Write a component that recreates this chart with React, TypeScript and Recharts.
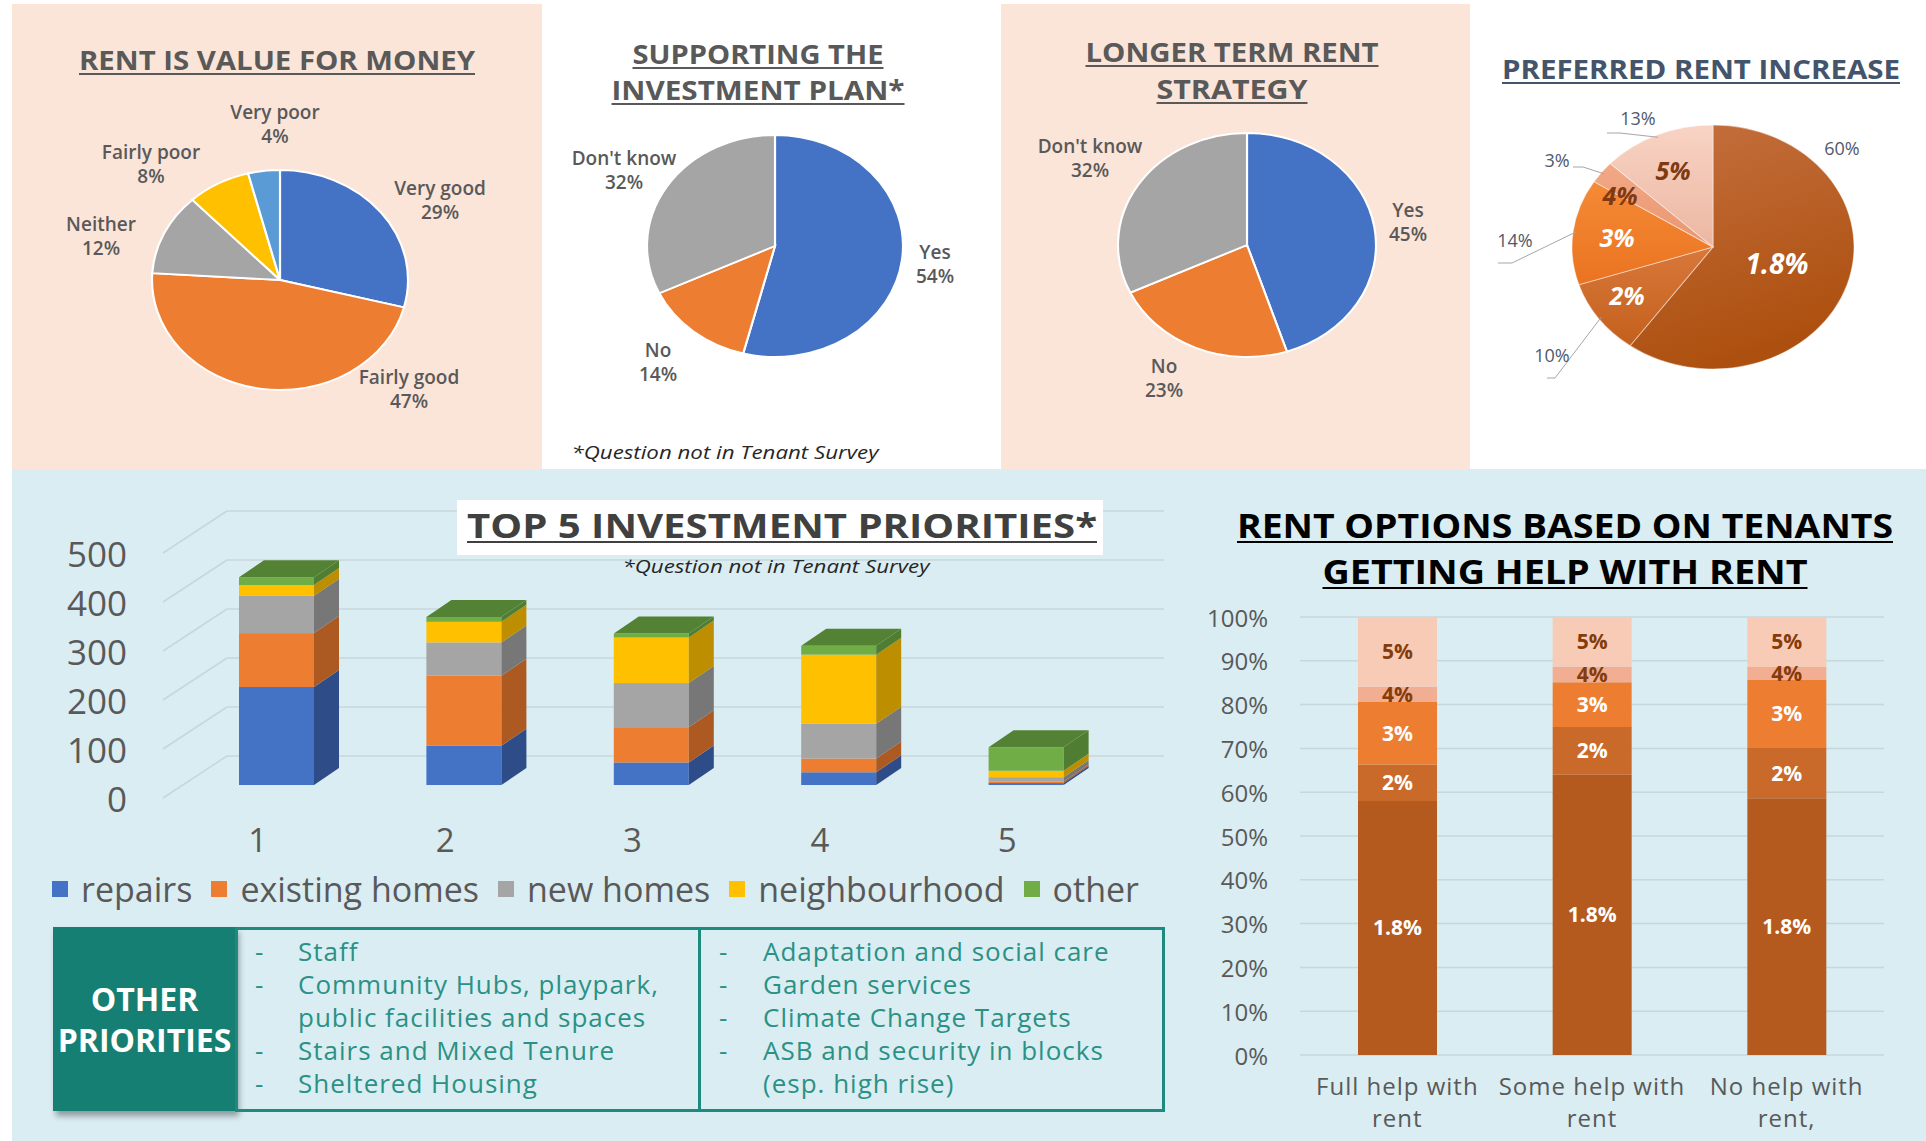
import React from "react";
import {
  PieChart,
  Pie,
  Cell,
  BarChart,
  Bar,
  XAxis,
  YAxis,
  CartesianGrid,
  LabelList,
} from "recharts";

// ---- data ----
const valueNames = ["Very good", "Fairly good", "Neither", "Fairly poor", "Very poor"];
const valueShares = [29, 47, 12, 8, 4];

const planNames = ["Yes", "No", "Don't know"];
const planShares = [54, 14, 32];

const strategyNames = ["Yes", "No", "Don't know"];
const strategyShares = [45, 23, 32];

const increaseNames = ["1.8%", "2%", "3%", "4%", "5%"];
const increaseShares = [60, 10, 14, 3, 13];

const priorityRanks = ["1", "2", "3", "4", "5"];
const repairs = [200, 80, 46, 26, 4];
const existingHomes = [110, 143, 72, 28, 3];
const newHomes = [76, 68, 90, 71, 9];
const neighbourhood = [22, 42, 93, 141, 13];
const otherPriority = [16, 10, 8, 18, 48];
const priorityTicks = [0, 100, 200, 300, 400, 500];

const helpGroups = ["Full help with|rent", "Some help with|rent", "No help with|rent,"];
const rent18 = [58, 64, 58.6];
const rent2 = [8.3, 10.9, 11.5];
const rent3 = [14.3, 10.2, 15.5];
const rent4 = [3.5, 3.6, 3.0];
const rent5 = [15.9, 11.3, 11.4];
const percentTicks = [0, 10, 20, 30, 40, 50, 60, 70, 80, 90, 100];

const leftItems = ["Staff", "Community Hubs, playpark,", "public facilities and spaces", "Stairs and Mixed Tenure", "Sheltered Housing"];
const leftDash = [true, true, false, true, true];
const rightItems = ["Adaptation and social care", "Garden services", "Climate Change Targets", "ASB and security in blocks", "(esp. high rise)"];
const rightDash = [true, true, true, true, false];

// ---- styling ----
const FONT = "'Open Sans', 'DejaVu Sans', sans-serif";
const GREY = "#595959";
const PEACH = "#fbe4d8";
const BLUEBG = "#daedf2";
const OFFICE = ["#4472C4", "#ED7D31", "#A5A5A5", "#FFC000", "#5B9BD5"];

const pieValueLabels: [number, number][] = [[160, -80], [129, 109], [-179, -44], [-129, -116], [-5, -156]];
const piePlanLabels: [number, number][] = [[160, 18], [-117, 116], [-151, -76]];
const pieStrategyLabels: [number, number][] = [[161, -23], [-83, 133], [-157, -87]];
const incInner: [number, number][] = [[64, 16], [-86, 48], [-96, -10], [-93, -52], [-40, -77]];
const incOuter: [number, number][] = [[129, -99], [-161, 108], [-198, -7], [-156, -87], [-75, -129]];
const incLeaders: (number[] | null)[] = [null, [-166, 131, -158, 131], [-215, 16, -201, 16], [-140, -80, -130, -80], [-106, -114, -93, -114]];
const incFill = ["url(#inc0)", "url(#inc1)", "url(#inc2)", "url(#inc3)", "url(#inc4)"];
const incText = ["#ffffff", "#ffffff", "#ffffff", "#7f3a12", "#7f3a12"];
const RX4 = 141;
const RY4 = 122;

const twoLineLabel = (offsets: [number, number][]) => (p: any) => {
  const [dx, dy] = offsets[p.index];
  const x = p.cx + dx;
  const y = p.cy + dy;
  const name = p.payload?.name ?? p.name;
  return (
    <text x={x} y={y} textAnchor="middle" fill={GREY} fontSize={19} fontFamily={FONT} fontWeight={600}>
      <tspan x={x} dy={-5}>{name}</tspan>
      <tspan x={x} dy={24}>{`${p.value}%`}</tspan>
    </text>
  );
};

const increaseLabel = (p: any) => {
  const i = p.index;
  const { cx, cy } = p;
  const mid = (p.midAngle * Math.PI) / 180;
  const ex = cx + RX4 * 0.98 * Math.cos(mid);
  const ey = cy - RY4 * 0.98 * Math.sin(mid);
  const lead = incLeaders[i];
  const name = p.payload?.name ?? p.name;
  return (
    <g>
      {lead ? (
        <polyline
          points={`${cx + lead[0]},${cy + lead[1]} ${cx + lead[2]},${cy + lead[3]} ${ex},${ey}`}
          fill="none"
          stroke="#a6a6a6"
          strokeWidth={1}
        />
      ) : null}
      <text
        x={cx + incInner[i][0]}
        y={cy + incInner[i][1]}
        textAnchor="middle"
        dominantBaseline="central"
        fill={incText[i]}
        fontSize={i === 0 ? 28 : 25}
        fontWeight={700}
        fontStyle="italic"
        fontFamily={FONT}
      >
        {name}
      </text>
      <text
        x={cx + incOuter[i][0]}
        y={cy + incOuter[i][1]}
        textAnchor="middle"
        dominantBaseline="central"
        fill="#505a6b"
        fontSize={18}
        fontFamily={FONT}
      >
        {`${p.value}%`}
      </text>
    </g>
  );
};

function SurveyPie(props: any) {
  const { cls, left, top, w, h, cx, cy, rx, ry, names, values, fills, stroke, strokeWidth, label, defs } = props;
  const r = (rx + ry) / 2;
  const data = names.map((n: string, i: number) => ({ name: n, value: values[i] }));
  return (
    <div className={cls} style={{ position: "absolute", left, top, width: w, height: h }}>
      <style>{`.${cls} path.recharts-sector{transform-origin:${cx}px ${cy}px;transform:scale(${rx / r},${ry / r});}`}</style>
      <PieChart width={w} height={h} margin={{ top: 0, right: 0, bottom: 0, left: 0 }}>
        {defs}
        <Pie
          data={data}
          dataKey="value"
          nameKey="name"
          cx={cx}
          cy={cy}
          outerRadius={r}
          startAngle={90}
          endAngle={-270}
          stroke={stroke}
          strokeWidth={strokeWidth}
          label={label}
          labelLine={false}
          isAnimationActive={false}
        >
          {data.map((d: any, i: number) => (
            <Cell key={d.name} fill={fills[i]} />
          ))}
        </Pie>
      </PieChart>
    </div>
  );
}

// 3D stacked column series
const series3d = [
  { key: "repairs", name: "repairs", front: "#4472C4", side: "#2e4d88" },
  { key: "existing", name: "existing homes", front: "#ED7D31", side: "#ad5a22" },
  { key: "newHomes", name: "new homes", front: "#A5A5A5", side: "#777777" },
  { key: "neighbourhood", name: "neighbourhood", front: "#FFC000", side: "#bc8e00" },
  { key: "other", name: "other", front: "#70AD47", side: "#4f7e32", top: "#548235" },
];

const priorityData = priorityRanks.map((r, i) => ({
  rank: r,
  repairs: repairs[i],
  existing: existingHomes[i],
  newHomes: newHomes[i],
  neighbourhood: neighbourhood[i],
  other: otherPriority[i],
}));

const DEPTH_X = 25;
const DEPTH_Y = -17;

const box3d = (side: string, topFace?: string) => (p: any) => {
  const { x, y, width, height, fill } = p;
  if (!height || height <= 0) return <g />;
  return (
    <g>
      <rect x={x} y={y} width={width} height={height} fill={fill} />
      <polygon
        points={`${x + width},${y} ${x + width + DEPTH_X},${y + DEPTH_Y} ${x + width + DEPTH_X},${y + height + DEPTH_Y} ${x + width},${y + height}`}
        fill={side}
      />
      {topFace ? (
        <polygon
          points={`${x},${y} ${x + DEPTH_X},${y + DEPTH_Y} ${x + width + DEPTH_X},${y + DEPTH_Y} ${x + width},${y}`}
          fill={topFace}
        />
      ) : null}
    </g>
  );
};

// rent options stacked 100% columns
const rentSeries = [
  { key: "r18", name: "1.8%", fill: "#b45a1f", text: "#ffffff", values: rent18 },
  { key: "r2", name: "2%", fill: "#c9692a", text: "#ffffff", values: rent2 },
  { key: "r3", name: "3%", fill: "#ed7d31", text: "#ffffff", values: rent3 },
  { key: "r4", name: "4%", fill: "#f2ae93", text: "#843c0c", values: rent4 },
  { key: "r5", name: "5%", fill: "#f8cbb6", text: "#843c0c", values: rent5 },
];

const rentData = helpGroups.map((g, i) => {
  const row: any = { group: g };
  rentSeries.forEach((s) => {
    row[s.key] = s.values[i];
  });
  return row;
});

function Title(props: any) {
  const { x, y, w, size, color, text, italic, underline = true } = props;
  return (
    <g>
      <text
        x={x}
        y={y}
        textAnchor="middle"
        textLength={w}
        lengthAdjust="spacingAndGlyphs"
        fontSize={size}
        fontWeight={italic ? 400 : 700}
        fontStyle={italic ? "italic" : "normal"}
        fill={color}
        fontFamily={FONT}
      >
        {text}
      </text>
      {underline ? (
        <line x1={x - w / 2} x2={x + w / 2} y1={y + 4} y2={y + 4} stroke={color} strokeWidth={2} />
      ) : null}
    </g>
  );
}

export default function App() {
  return (
    <div
      style={{
        position: "absolute",
        left: 0,
        top: 0,
        width: 1926,
        height: 1141,
        background: "#ffffff",
        overflow: "hidden",
        fontFamily: FONT,
      }}
    >
      {/* panel backgrounds */}
      <div style={{ position: "absolute", left: 12, top: 4, width: 530, height: 465, background: PEACH }} />
      <div style={{ position: "absolute", left: 1001, top: 4, width: 469, height: 465, background: PEACH }} />
      <div style={{ position: "absolute", left: 12, top: 469, width: 1914, height: 672, background: BLUEBG }} />

      <SurveyPie
        cls="pie-value"
        left={12}
        top={4}
        w={530}
        h={465}
        cx={268}
        cy={276}
        rx={128}
        ry={110}
        names={valueNames}
        values={valueShares}
        fills={OFFICE}
        stroke="#ffffff"
        strokeWidth={2}
        label={twoLineLabel(pieValueLabels)}
      />
      <SurveyPie
        cls="pie-plan"
        left={542}
        top={4}
        w={459}
        h={465}
        cx={233}
        cy={242}
        rx={128}
        ry={111}
        names={planNames}
        values={planShares}
        fills={[OFFICE[0], OFFICE[1], OFFICE[2]]}
        stroke="#ffffff"
        strokeWidth={2}
        label={twoLineLabel(piePlanLabels)}
      />
      <SurveyPie
        cls="pie-strategy"
        left={1001}
        top={4}
        w={469}
        h={465}
        cx={246}
        cy={241}
        rx={129}
        ry={112}
        names={strategyNames}
        values={strategyShares}
        fills={[OFFICE[0], OFFICE[1], OFFICE[2]]}
        stroke="#ffffff"
        strokeWidth={2}
        label={twoLineLabel(pieStrategyLabels)}
      />
      <SurveyPie
        cls="pie-increase"
        left={1470}
        top={4}
        w={456}
        h={465}
        cx={243}
        cy={243}
        rx={RX4}
        ry={RY4}
        names={increaseNames}
        values={increaseShares}
        fills={incFill}
        stroke="rgba(255,255,255,0.45)"
        strokeWidth={1}
        label={increaseLabel}
        defs={
          <defs>
            <linearGradient id="inc0" x1="0" y1="0" x2="0.3" y2="1">
              <stop offset="0%" stopColor="#c5703f" />
              <stop offset="100%" stopColor="#ad500f" />
            </linearGradient>
            <linearGradient id="inc1" x1="0" y1="0" x2="0" y2="1">
              <stop offset="0%" stopColor="#d8783a" />
              <stop offset="100%" stopColor="#c4601d" />
            </linearGradient>
            <linearGradient id="inc2" x1="0" y1="0" x2="0" y2="1">
              <stop offset="0%" stopColor="#f58a36" />
              <stop offset="100%" stopColor="#ea7320" />
            </linearGradient>
            <linearGradient id="inc3" x1="0" y1="0" x2="0" y2="1">
              <stop offset="0%" stopColor="#f2a886" />
              <stop offset="100%" stopColor="#ea966f" />
            </linearGradient>
            <linearGradient id="inc4" x1="0" y1="0" x2="0" y2="1">
              <stop offset="0%" stopColor="#f8d3c4" />
              <stop offset="100%" stopColor="#ecb7a2" />
            </linearGradient>
          </defs>
        }
      />

      {/* 3D stacked columns */}
      <div style={{ position: "absolute", left: 0, top: 469 }}>
        <BarChart width={1180} height={420} data={priorityData} margin={{ top: 71, right: 60, bottom: 74, left: 143 }}>
          <CartesianGrid
            vertical={false}
            horizontal={(g: any) => (
              <g key={g.key ?? `grid-${g.y1}`}>
                <line x1={g.x1 - 20} y1={g.y1 + 13} x2={g.x1 + 44} y2={g.y1 - 29} stroke="#c9d6db" strokeWidth={1.5} />
                <line x1={g.x1 + 44} y1={g.y1 - 29} x2={g.x2 + 44} y2={g.y1 - 29} stroke="#c9d6db" strokeWidth={1.5} />
              </g>
            )}
          />
          <XAxis
            dataKey="rank"
            axisLine={false}
            tickLine={false}
            height={30}
            tick={(t: any) => (
              <text x={t.x - 19} y={370} textAnchor="middle" dominantBaseline="central" fontSize={33} fill={GREY} fontFamily={FONT}>
                {t.payload.value}
              </text>
            )}
          />
          <YAxis
            domain={[0, 500]}
            ticks={priorityTicks}
            width={40}
            axisLine={false}
            tickLine={false}
            tick={(t: any) => (
              <text x={127} y={t.y + 13} textAnchor="end" dominantBaseline="central" fontSize={35} fill={GREY} fontFamily={FONT}>
                {t.payload.value}
              </text>
            )}
          />
          {series3d.map((s) => (
            <Bar
              key={s.key}
              dataKey={s.key}
              name={s.name}
              stackId="p"
              fill={s.front}
              barSize={75}
              shape={box3d(s.side, s.top)}
              isAnimationActive={false}
            />
          ))}
        </BarChart>
      </div>

      {/* legend for the 3D chart */}
      <div
        style={{
          position: "absolute",
          left: 52,
          top: 868,
          display: "flex",
          alignItems: "center",
          fontSize: 34,
          lineHeight: "42px",
          color: GREY,
          whiteSpace: "nowrap",
        }}
      >
        {series3d.map((s) => (
          <div key={s.key} style={{ display: "flex", alignItems: "center", marginRight: 19 }}>
            <span style={{ width: 16, height: 16, background: s.front, marginRight: 13, display: "inline-block" }} />
            {s.name}
          </div>
        ))}
      </div>

      {/* rent options chart */}
      <div style={{ position: "absolute", left: 1180, top: 469 }}>
        <BarChart width={746} height={672} data={rentData} margin={{ top: 148, right: 42, bottom: 26, left: 60 }}>
          <CartesianGrid vertical={false} stroke="#c6d7dd" strokeWidth={1.5} />
          <XAxis
            dataKey="group"
            axisLine={false}
            tickLine={false}
            height={60}
            tick={(t: any) => {
              const [a, b] = String(t.payload.value).split("|");
              return (
                <text textAnchor="middle" fontSize={24} fill={GREY} fontFamily={FONT} letterSpacing={1}>
                  <tspan x={t.x} y={626}>{a}</tspan>
                  <tspan x={t.x} y={658}>{b}</tspan>
                </text>
              );
            }}
          />
          <YAxis
            domain={[0, 100]}
            ticks={percentTicks}
            width={60}
            axisLine={false}
            tickLine={false}
            tick={(t: any) => (
              <text x={88} y={t.y} textAnchor="end" dominantBaseline="central" fontSize={24} fill={GREY} fontFamily={FONT}>
                {`${t.payload.value}%`}
              </text>
            )}
          />
          {rentSeries.map((s) => (
            <Bar key={s.key} dataKey={s.key} name={s.name} stackId="r" fill={s.fill} barSize={79} isAnimationActive={false}>
              <LabelList
                dataKey={s.key}
                position="center"
                formatter={() => s.name}
                fill={s.text}
                fontSize={21}
                fontWeight={700}
                fontFamily={FONT}
              />
            </Bar>
          ))}
        </BarChart>
      </div>

      {/* titles and notes */}
      <svg width={1926} height={1141} style={{ position: "absolute", left: 0, top: 0, pointerEvents: "none" }}>
        <rect x={457} y={500} width={646} height={55} fill="#ffffff" />
        <Title x={277} y={70} w={396} size={26} color={GREY} text="RENT IS VALUE FOR MONEY" />
        <Title x={758} y={64} w={251} size={26} color={GREY} text="SUPPORTING THE" />
        <Title x={758} y={100} w={293} size={26} color={GREY} text="INVESTMENT PLAN*" />
        <Title x={1232} y={62} w={293} size={26} color={GREY} text="LONGER TERM RENT" />
        <Title x={1232} y={99} w={151} size={26} color={GREY} text="STRATEGY" />
        <Title x={1701} y={79} w={398} size={26} color="#44546a" text="PREFERRED RENT INCREASE" />
        <Title x={725} y={459} w={307} size={19} color="#262626" italic underline={false} text="*Question not in Tenant Survey" />
        <Title x={782} y={538} w={630} size={34} color="#404040" text="TOP 5 INVESTMENT PRIORITIES*" />
        <Title x={776} y={573} w={307} size={18} color="#262626" italic underline={false} text="*Question not in Tenant Survey" />
        <Title x={1565} y={538} w={656} size={34} color="#000000" text="RENT OPTIONS BASED ON TENANTS" />
        <Title x={1565} y={584} w={485} size={34} color="#000000" text="GETTING HELP WITH RENT" />
      </svg>

      {/* other priorities box */}
      <div
        style={{
          position: "absolute",
          left: 53,
          top: 927,
          width: 183,
          height: 184,
          background: "#157f73",
          boxShadow: "3px 5px 6px rgba(0,0,0,0.35)",
          color: "#ffffff",
          fontWeight: 700,
          fontSize: 32,
          lineHeight: "41px",
          display: "flex",
          flexDirection: "column",
          justifyContent: "center",
          alignItems: "center",
          textAlign: "center",
        }}
      >
        <div>OTHER</div>
        <div>PRIORITIES</div>
      </div>
      <div
        style={{
          position: "absolute",
          left: 235,
          top: 927,
          width: 930,
          height: 185,
          boxSizing: "border-box",
          border: "3px solid #1d8a7e",
        }}
      />
      <div style={{ position: "absolute", left: 698, top: 927, width: 3, height: 185, background: "#1d8a7e" }} />
      {leftItems.map((t, i) => (
        <div key={t} style={{ position: "absolute", top: 935 + i * 33, left: 0, fontSize: 26, letterSpacing: 1, lineHeight: "33px", color: "#2b9185", whiteSpace: "nowrap" }}>
          {leftDash[i] ? <span style={{ position: "absolute", left: 255 }}>-</span> : null}
          <span style={{ position: "absolute", left: 298 }}>{t}</span>
        </div>
      ))}
      {rightItems.map((t, i) => (
        <div key={t} style={{ position: "absolute", top: 935 + i * 33, left: 0, fontSize: 26, letterSpacing: 1, lineHeight: "33px", color: "#2b9185", whiteSpace: "nowrap" }}>
          {rightDash[i] ? <span style={{ position: "absolute", left: 719 }}>-</span> : null}
          <span style={{ position: "absolute", left: 763 }}>{t}</span>
        </div>
      ))}
    </div>
  );
}
